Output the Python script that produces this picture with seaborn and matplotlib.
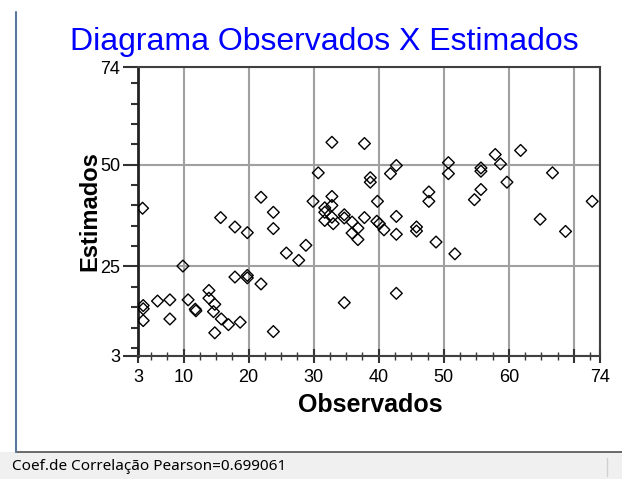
import matplotlib
matplotlib.use("Agg")
import pandas as pd
import matplotlib.pyplot as plt
import seaborn as sns
from matplotlib.ticker import FixedLocator, MultipleLocator
from matplotlib.patches import Rectangle
from matplotlib.lines import Line2D

# Dados lidos do diagrama (observado x estimado)
observados = [3.7, 9.9, 15.7, 17.9, 19.8, 21.9, 23.8, 23.8, 25.8, 27.7,
              28.8, 17.9, 19.8, 19.8, 21.9, 3.8, 3.8, 3.8, 6.0, 7.9,
              7.9, 10.7, 11.8, 11.9, 13.9, 13.9, 14.8, 14.6, 15.8, 16.9,
              18.7, 14.8, 23.8, 32.8, 37.8, 30.7, 38.7, 38.7, 42.7, 41.8,
              29.9, 32.8, 32.8, 31.7, 31.7, 31.7, 32.8, 33.0, 34.7, 34.7,
              35.9, 36.8, 35.9, 36.8, 37.8, 39.8, 39.7, 40.1, 40.8, 42.7,
              42.7, 45.8, 45.8, 47.7, 47.7, 48.8, 50.7, 50.7, 55.7, 55.7,
              57.9, 58.7, 61.8, 59.7, 55.7, 54.7, 66.7, 72.8, 64.8, 68.7,
              51.7, 34.7, 42.7]
estimados = [39.3, 25.1, 37.0, 34.7, 33.3, 42.0, 38.3, 34.3, 28.3, 26.5,
             30.2, 22.4, 22.8, 22.2, 20.7, 15.4, 14.6, 11.7, 16.5, 16.8,
             12.1, 16.8, 14.5, 14.1, 19.1, 17.2, 15.7, 13.9, 12.1, 10.7,
             11.3, 8.7, 9.0, 55.5, 55.2, 48.0, 46.8, 45.7, 49.8, 47.8,
             41.0, 42.2, 40.0, 39.4, 38.3, 36.3, 37.1, 35.5, 37.7, 36.9,
             35.9, 34.4, 33.2, 31.6, 37.0, 41.0, 36.1, 35.5, 34.0, 37.3,
             32.9, 34.7, 33.7, 43.3, 41.0, 31.0, 50.5, 47.8, 49.2, 48.4,
             52.5, 50.2, 53.5, 45.7, 43.9, 41.4, 48.0, 41.0, 36.6, 33.6,
             28.1, 16.1, 18.4]

x_ticks = [3, 10, 20, 30, 40, 50, 60, 70, 74]
x_tick_labels = ['3', '10', '20', '30', '40', '50', '60', '', '74']
y_ticks = [3, 25, 50, 74]
y_tick_labels = ['3', '25', '50', '74']
coef_pearson = 0.699061

df = pd.DataFrame({'Observados': observados, 'Estimados': estimados})

sns.set_theme(style="white")
plt.rcParams['font.family'] = ['Liberation Sans', 'DejaVu Sans']

W, H = 622, 479
fig = plt.figure(figsize=(W / 100, H / 100), dpi=100)
fig.patch.set_facecolor('white')

# eixo posicionado em pixels
ax = fig.add_axes([138 / W, 1 - 356 / H, 462 / W, 289 / H])

sns.scatterplot(data=df, x='Observados', y='Estimados', ax=ax,
                marker='D', s=36, facecolor='none', edgecolor='black',
                linewidth=1.0, zorder=3)

ax.set_xlim(3, 74)
ax.set_ylim(3, 74)
ax.xaxis.set_major_locator(FixedLocator(x_ticks))
ax.set_xticklabels(x_tick_labels)
ax.yaxis.set_major_locator(FixedLocator(y_ticks))
ax.set_yticklabels(y_tick_labels)
ax.xaxis.set_minor_locator(MultipleLocator(2.5))
ax.yaxis.set_minor_locator(MultipleLocator(5))

ax.grid(True, which='major', color='#a0a0a0', linewidth=1.5, zorder=0)
ax.set_axisbelow(True)

ax.tick_params(axis='x', which='major', direction='inout', length=10,
               width=1.5, color='#333333', labelsize=13, pad=4,
               bottom=True, labelcolor='black')
ax.tick_params(axis='x', which='minor', direction='inout', length=6,
               width=1.0, color='#333333', bottom=True)
ax.tick_params(axis='y', which='major', direction='out', length=11,
               width=1.5, color='#333333', labelsize=13, pad=2,
               left=True, labelcolor='black')
ax.tick_params(axis='y', which='minor', direction='out', length=5,
               width=1.5, color='#333333', left=True)

for side in ['top', 'right', 'bottom', 'left']:
    ax.spines[side].set_visible(True)
    ax.spines[side].set_color('#404040')
    ax.spines[side].set_linewidth(1.5)
ax.spines['left'].set_color('#222222')
ax.spines['left'].set_linewidth(2)

ax.set_xlabel('')
ax.set_ylabel('')

# textos
fig.text(324 / W, 1 - 42 / H, 'Diagrama Observados X Estimados',
         color='#0000ff', fontsize=23, ha='center', va='center')
fig.text(370 / W, 1 - 405 / H, 'Observados', fontsize=18, color='black',
         fontweight='bold', ha='center', va='center')
fig.text(90 / W, 1 - 211 / H, 'Estimados', fontsize=17, color='black',
         fontweight='bold', ha='center', va='center', rotation=90)

# moldura da janela e barra de status
fig.add_artist(Rectangle((0, 0), 1, 27 / H, transform=fig.transFigure,
                         facecolor='#f0f0f0', edgecolor='none'))
fig.add_artist(Line2D([16 / W, 1], [1 - 452 / H] * 2,
                      transform=fig.transFigure, color='#505050', lw=1.2))
fig.add_artist(Line2D([16 / W] * 2, [1 - 12 / H, 1 - 452 / H],
                      transform=fig.transFigure, color='#5a78a0', lw=1.5))
fig.add_artist(Line2D([607 / W] * 2, [1 - 458 / H, 1 - 476 / H],
                      transform=fig.transFigure, color='#d0d0d0', lw=1))
fig.text(12 / W, 1 - 466 / H, f'Coef.de Correlação Pearson={coef_pearson}',
         fontsize=11, family=['Noto Sans', 'DejaVu Sans'],
         ha='left', va='center', color='black')

fig.savefig('out.png', dpi=100)
